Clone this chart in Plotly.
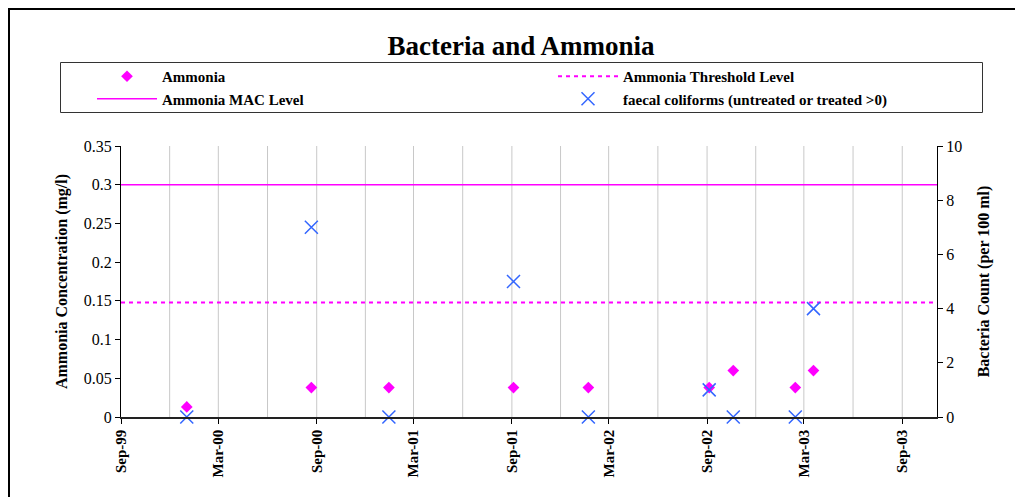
import plotly.graph_objects as go

# Data
dates = ["2000-01-02", "2000-08-22", "2001-01-14", "2001-09-04", "2002-01-22",
         "2002-09-05", "2002-10-20", "2003-02-13", "2003-03-19"]
ammonia = [0.013, 0.038, 0.038, 0.038, 0.038, 0.038, 0.060, 0.038, 0.060]
bacteria = [0, 7, 0, 5, 0, 1, 0, 0, 4]
mac_level = 0.3
threshold_level = 0.148
x_start = "1999-09-01"
x_end = "2003-11-05"
tick_vals = ["1999-09-01", "2000-03-01", "2000-09-01", "2001-03-01", "2001-09-01",
             "2002-03-01", "2002-09-01", "2003-03-01", "2003-09-01"]
tick_text = ["Sep-99", "Mar-00", "Sep-00", "Mar-01", "Sep-01", "Mar-02", "Sep-02", "Mar-03", "Sep-03"]
grid_dates = ["1999-12-01", "2000-03-01", "2000-06-01", "2000-09-01", "2000-12-01", "2001-03-01",
              "2001-06-01", "2001-09-01", "2001-12-01", "2002-03-01", "2002-06-01", "2002-09-01",
              "2002-12-01", "2003-03-01", "2003-06-01", "2003-09-01"]

SERIF = "Liberation Serif, Times New Roman, serif"
MAG = "#FF00FF"
BLUE = "#3366FF"

fig = go.Figure()
fig.add_trace(go.Scatter(x=dates, y=ammonia, mode="markers", name="Ammonia",
                         marker=dict(symbol="diamond", size=9, color=MAG), cliponaxis=False))
fig.add_trace(go.Scatter(x=[x_start, x_end], y=[threshold_level] * 2, mode="lines",
                         name="Ammonia Threshold Level",
                         line=dict(color=MAG, width=2, dash="4px,4px")))
fig.add_trace(go.Scatter(x=[x_start, x_end], y=[mac_level] * 2, mode="lines",
                         name="Ammonia MAC Level", line=dict(color=MAG, width=1.5)))
fig.add_trace(go.Scatter(x=dates, y=bacteria, mode="markers", yaxis="y2",
                         name="faecal coliforms (untreated or treated >0)",
                         marker=dict(symbol="x-thin", size=13, color=BLUE,
                                     line=dict(color=BLUE, width=1.5)),
                         cliponaxis=False))

OFF = 8  # page body margin
W, H = 1015, 489
L, R, T, B = 113, 86, 138, 80
pw, ph = W - L - R, H - T - B


def px(x):  # page x -> paper fraction
    return (x - OFF - L) / pw


def py(y):  # page y -> paper fraction
    return (H - B - (y - OFF)) / ph


shapes = [
    # outer frame
    dict(type="line", xref="paper", yref="paper", x0=px(7), x1=px(1040), y0=py(8.5), y1=py(8.5),
         line=dict(color="black", width=3)),
    dict(type="line", xref="paper", yref="paper", x0=px(8.5), x1=px(8.5), y0=py(7), y1=py(520),
         line=dict(color="black", width=3)),
    # legend box
    dict(type="rect", xref="paper", yref="paper", x0=px(60.5), x1=px(982.5), y0=py(62.5), y1=py(112.5),
         line=dict(color="#333333", width=1)),
]
for g in grid_dates:
    shapes.append(dict(type="line", xref="x", yref="paper", x0=g, x1=g, y0=0, y1=1,
                       line=dict(color="#C8C8C8", width=1), layer="below"))

fig.update_layout(
    width=W, height=H,
    margin=dict(l=L, r=R, t=T, b=B),
    paper_bgcolor="white", plot_bgcolor="white",
    font=dict(family=SERIF, color="black", size=15),
    title=dict(text="<b>Bacteria and Ammonia</b>", x=px(521), xref="paper", xanchor="center",
               y=1 - (46 - OFF) / H, yanchor="middle", font=dict(family=SERIF, size=27, color="black")),
    showlegend=True,
    legend=dict(orientation="h", x=px(92), xanchor="left", y=py(60), yanchor="top",
                entrywidth=386, entrywidthmode="pixels", itemwidth=60,
                font=dict(family=SERIF, size=15, color="black", weight="bold"),
                bgcolor="rgba(0,0,0,0)", borderwidth=0, traceorder="normal",
                itemclick=False, itemdoubleclick=False),
    xaxis=dict(type="date", range=[x_start, x_end], tickmode="array", tickvals=tick_vals,
               ticktext=tick_text, tickangle=-90, tickfont=dict(family=SERIF, size=15, weight="bold"),
               ticks="outside", ticklen=5, tickcolor="black",
               showgrid=False, showline=True, linecolor="#222222", linewidth=1.5,
               zeroline=False, fixedrange=True),
    yaxis=dict(range=[0, 0.35], tickvals=[0, 0.05, 0.1, 0.15, 0.2, 0.25, 0.3, 0.35],
               ticktext=["0", "0.05", "0.1", "0.15", "0.2", "0.25", "0.3", "0.35"],
               ticks="outside", ticklen=5, tickcolor="black", showline=True, linecolor="black",
               linewidth=1, showgrid=False, zeroline=False,
               title=dict(text="<b>Ammonia Concentration (mg/l)</b>", standoff=12,
                          font=dict(family=SERIF, size=16)),
               tickfont=dict(family=SERIF, size=16)),
    yaxis2=dict(range=[0, 10], tickvals=[0, 2, 4, 6, 8, 10], overlaying="y", side="right",
                ticks="outside", ticklen=5, tickcolor="black", showline=True, linecolor="black",
                linewidth=1, showgrid=False, zeroline=False,
                title=dict(text="<b>Bacteria Count (per 100 ml)</b>", standoff=16,
                           font=dict(family=SERIF, size=16)),
                tickfont=dict(family=SERIF, size=16)),
    yaxis3=dict(range=[0, 10], tickvals=[0, 2, 4, 6, 8, 10], overlaying="y", side="right",
                ticks="inside", ticklen=5, tickcolor="black", showline=False,
                showticklabels=False, showgrid=False, zeroline=False),
    shapes=shapes,
)

fig.write_html("out.html")
